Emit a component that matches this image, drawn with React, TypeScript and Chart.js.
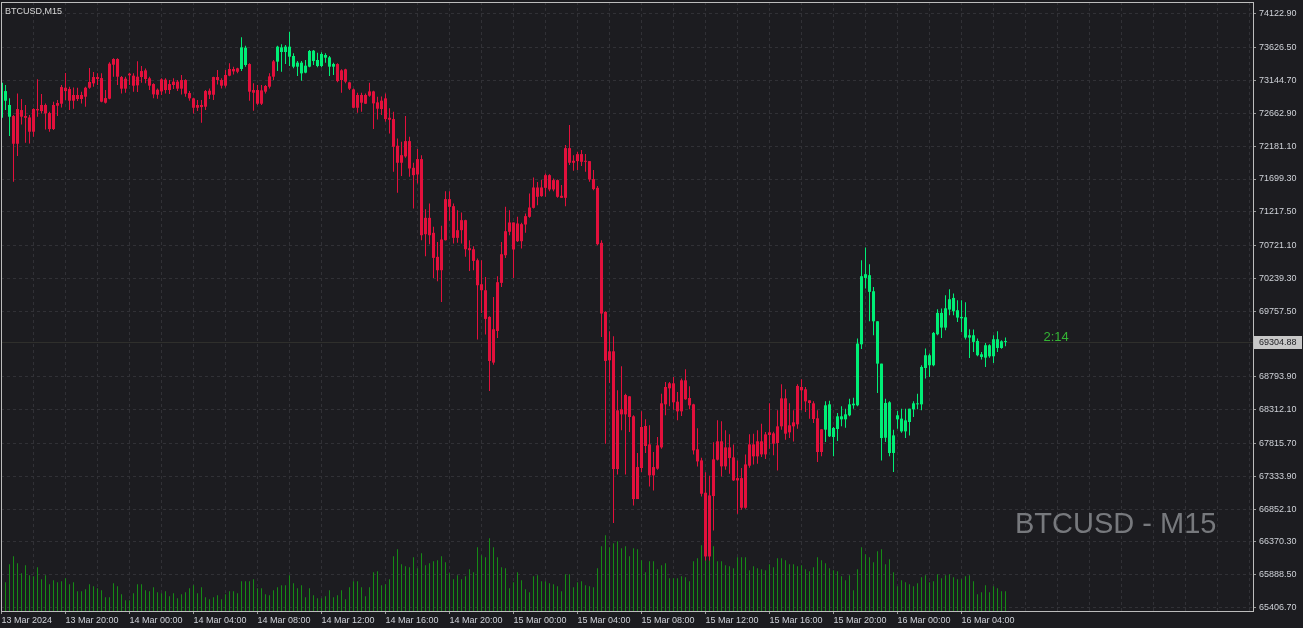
import { useEffect, useRef } from "react";
import { Chart, registerables } from "chart.js";

Chart.register(...registerables);

// ---------- data ----------
const SYMBOL_LABEL = "BTCUSD,M15";
const WATERMARK = "BTCUSD - M15";
const COUNTDOWN = "2:14";
const CURRENT_PRICE = 69304.88;

const timeTicks = [
  "13 Mar 2024", "13 Mar 20:00", "14 Mar 00:00", "14 Mar 04:00", "14 Mar 08:00",
  "14 Mar 12:00", "14 Mar 16:00", "14 Mar 20:00", "15 Mar 00:00", "15 Mar 04:00",
  "15 Mar 08:00", "15 Mar 12:00", "15 Mar 16:00", "15 Mar 20:00", "16 Mar 00:00",
  "16 Mar 04:00",
];

const priceTicks = [
  74122.9, 73626.5, 73144.7, 72662.9, 72181.1, 71699.3, 71217.5, 70721.1, 70239.3,
  69757.5, 68793.9, 68312.1, 67815.7, 67333.9, 66852.1, 66370.3, 65888.5, 65406.7,
];

const open = [
  72599, 72849, 72614, 72624, 72727, 72712, 72624, 72604, 72727, 72727,
  72786, 72786, 72668, 72786, 72815, 73050, 73040, 73021, 72933, 72933,
  72933, 73040, 73124, 73197, 73197, 73182, 72888, 73393, 73462, 73462,
  73197, 73173, 73246, 73217, 73202, 73285, 73295, 73178, 73094, 73011,
  73163, 73158, 73094, 73129, 73129, 73153, 73153, 72962, 72884, 72786,
  72786, 72991, 72996, 73197, 73197, 73153, 73227, 73315, 73315, 73325,
  73315, 73374, 73388, 73006, 73006, 73001, 73065, 73207, 73427, 73423,
  73565, 73565, 73496, 73349, 73349, 73251, 73261, 73349, 73432, 73359,
  73359, 73481, 73349, 73349, 73388, 73295, 73310, 73119, 73016, 72933,
  72933, 72933, 72986, 72986, 72825, 72850, 72884, 72599, 72580, 72188,
  72050, 72256, 72256, 71864, 71992, 71992, 71129, 71129, 70909, 70556,
  70811, 71404, 71404, 71301, 70948, 71095, 71095, 70683, 70668, 70507,
  70154, 70066, 69674, 69493, 70184, 70595, 70933, 71061, 71061, 71046,
  71036, 71154, 71281, 71575, 71575, 71575, 71756, 71756, 71683, 71683,
  71453, 72153, 72153, 71967, 72065, 72065, 71967, 71962, 71698, 71570,
  70762, 69748, 69169, 69169, 68302, 68317, 68527, 68508, 68214, 67469,
  68057, 68072, 67802, 67469, 67788, 68405, 68645, 68699, 68699, 68429,
  68743, 68743, 68483, 68390, 67729, 67567, 67092, 67052, 67582, 67847,
  67847, 67758, 67758, 67611, 67307, 67307, 67508, 67802, 67802, 67847,
  67847, 67949, 67979, 67964, 68067, 68478, 68478, 68082, 68126, 68660,
  68645, 68611, 68449, 68405, 68185, 68023, 68018, 67920, 67910, 68028,
  68170, 68170, 68229, 68376, 68376, 69272, 70247, 70042, 69610, 68988,
  67895, 67900, 67675, 67675, 68170, 67993, 67993, 68131, 68317, 68390,
  68390, 68924, 68964, 68964, 69419, 69517, 69517, 69782, 69757, 69664,
  69654, 69370, 69370, 69307, 69111, 69086, 69076, 69096, 69096, 69218,
  69218, 69316,
];

const high = [
  73140, 73080, 72884, 72639, 72957, 72874, 72786, 72639, 72740, 73163,
  72947, 72810, 72688, 72835, 72859, 73080, 73256, 73055, 73045, 73040,
  72982, 73055, 73329, 73271, 73251, 73251, 73006, 73413, 73472, 73472,
  73212, 73202, 73261, 73251, 73427, 73359, 73324, 73202, 73104, 73030,
  73178, 73178, 73153, 73178, 73153, 73227, 73163, 72991, 72893, 72859,
  72859, 73006, 73030, 73202, 73300, 73178, 73300, 73398, 73349, 73334,
  73780, 73658, 73398, 73104, 73080, 73080, 73080, 73251, 73447, 73658,
  73677, 73668, 73863, 73545, 73432, 73432, 73447, 73594, 73594, 73555,
  73560, 73545, 73506, 73408, 73398, 73310, 73320, 73129, 73030, 72967,
  72967, 72957, 73114, 72996, 72908, 72910, 72957, 72737, 72687, 72296,
  72247, 72624, 72320, 71938, 72139, 72050, 71257, 71340, 70997, 70776,
  71012, 71521, 71521, 71340, 71242, 71208, 71100, 70801, 70713, 70531,
  70507, 70262, 69684, 69968, 70272, 70776, 71291, 71242, 71061, 71144,
  71056, 71193, 71487, 71722, 71654, 71683, 71781, 71771, 71708, 71693,
  71610, 72198, 72492, 72050, 72100, 72124, 72065, 71962, 71830, 71595,
  70801, 69757, 69463, 69390, 68596, 68949, 68547, 68508, 68229, 67675,
  68287, 68170, 68082, 67690, 67910, 68547, 68719, 68719, 68792, 68572,
  68768, 68905, 68655, 68400, 68038, 67606, 67391, 67342, 67832, 68155,
  68140, 68008, 67949, 67802, 67567, 67454, 67655, 67949, 67959, 68008,
  68106, 67984, 68405, 67989, 68302, 68684, 68611, 68405, 68302, 68684,
  68758, 68645, 68449, 68434, 68302, 68023, 68434, 68444, 68057, 68263,
  68361, 68326, 68473, 68488, 69356, 70507, 70693, 70448, 70115, 69610,
  68988, 68473, 68434, 68018, 68292, 68326, 68326, 68326, 68434, 68547,
  68963, 69209, 69135, 69454, 69787, 69797, 69993, 70081, 70017, 69919,
  69919, 69890, 69493, 69488, 69356, 69160, 69292, 69272, 69405, 69463,
  69331, 69370,
];

const low = [
  72565, 72712, 72330, 71659, 72036, 72501, 72232, 72222, 72320, 72614,
  72663, 72428, 72394, 72418, 72624, 72751, 72859, 72712, 72732, 72844,
  72810, 72761, 73026, 73055, 73080, 72825, 72810, 72869, 73202, 73080,
  72957, 72967, 73080, 72982, 72977, 73114, 73104, 73006, 72884, 72879,
  72933, 72957, 72947, 73021, 72991, 72942, 72908, 72849, 72663, 72697,
  72526, 72712, 72874, 72859, 73089, 73030, 73045, 73207, 73236, 73251,
  73285, 73349, 72849, 72702, 72786, 72786, 72957, 73030, 73153, 73285,
  73275, 73388, 73359, 73325, 73212, 73143, 73251, 73339, 73374, 73339,
  73339, 73408, 73212, 73227, 73119, 72967, 73104, 73006, 72737, 72673,
  72688, 72800, 72908, 72433, 72575, 72640, 72541, 72369, 71805, 71497,
  71742, 72011, 71732, 71266, 71634, 70801, 70566, 70742, 70247, 70198,
  69894, 70795, 71085, 70752, 70762, 70752, 70556, 70350, 70360, 69341,
  69732, 69414, 68586, 68973, 69365, 70115, 70541, 70875, 70247, 70776,
  70679, 70909, 71129, 71266, 71315, 71438, 71438, 71521, 71521, 71423,
  71423, 71301, 71904, 71820, 71830, 71889, 71805, 71658, 71536, 70728,
  69380, 67812, 68704, 66646, 67361, 68008, 67361, 67984, 66906, 66999,
  67396, 67675, 67185, 67126, 67430, 67738, 68229, 68361, 68312, 68155,
  68219, 68459, 68317, 67655, 67479, 67038, 66097, 66097, 66538, 67567,
  67332, 67430, 67371, 67263, 66783, 66842, 66857, 67459, 67508, 67518,
  67616, 67587, 67739, 67641, 67420, 68018, 67871, 67896, 67846, 68033,
  68302, 68278, 68180, 68116, 67543, 67626, 67837, 67910, 67626, 67851,
  68067, 68047, 68214, 68327, 68361, 69204, 70091, 69610, 69405, 68557,
  67567, 67836, 67626, 67396, 68033, 67974, 67895, 67934, 68204, 68317,
  68302, 68768, 68792, 68949, 69405, 69365, 69478, 69699, 69699, 69601,
  69454, 69341, 69071, 69160, 69096, 69047, 68939, 69076, 68998, 69160,
  69208, 69243,
];

const close = [
  73114, 72991, 72786, 72217, 72217, 72614, 72599, 72394, 72394, 72707,
  72697, 72663, 72433, 72433, 72776, 72805, 72991, 72849, 72849, 72874,
  72874, 72908, 73040, 73104, 73168, 72835, 72820, 72879, 73378, 73202,
  73026, 73026, 73222, 73070, 73075, 73197, 73168, 73070, 72942, 72937,
  72986, 73006, 73006, 73080, 73026, 73026, 72952, 72884, 72746, 72746,
  72756, 72761, 72937, 72937, 73153, 73070, 73070, 73217, 73280, 73275,
  73633, 73628, 72982, 72967, 72805, 72805, 72982, 73055, 73202, 73643,
  73633, 73643, 73643, 73506, 73408, 73408, 73364, 73579, 73584, 73447,
  73535, 73521, 73486, 73388, 73138, 73153, 73129, 73026, 72746, 72746,
  72820, 72805, 72923, 72810, 72732, 72727, 72580, 72570, 72173, 71938,
  71938, 72031, 71854, 71756, 71766, 70874, 70889, 70874, 70541, 70360,
  70360, 70801, 71291, 70835, 70835, 70948, 70668, 70654, 70497, 70139,
  70066, 69645, 69027, 69003, 69468, 70174, 70580, 70924, 70664, 70786,
  70786, 71031, 71144, 71276, 71438, 71448, 71570, 71546, 71546, 71438,
  71423, 71423, 71938, 71938, 71962, 71952, 71952, 71693, 71551, 70742,
  69723, 69027, 69037, 67440, 67440, 68243, 68243, 68204, 66999, 66999,
  67455, 67778, 67347, 67347, 67445, 67758, 68390, 68625, 68420, 68287,
  68287, 68464, 68375, 67714, 67552, 67077, 66156, 66156, 67043, 67577,
  67479, 67479, 67601, 67273, 67273, 66871, 66871, 67489, 67626, 67626,
  67655, 67655, 67940, 67812, 67822, 68067, 67959, 67979, 68067, 68096,
  68596, 68434, 68410, 68175, 67690, 67690, 68376, 68390, 68043, 68214,
  68214, 68243, 68390, 68400, 69282, 70272, 70301, 70287, 70051, 69610,
  68988, 68410, 68420, 67934, 68229, 68180, 68155, 68326, 68405, 68405,
  68939, 69111, 69111, 69439, 69733, 69733, 69801, 69934, 69953, 69772,
  69674, 69669, 69405, 69405, 69321, 69125, 69258, 69258, 69346, 69346,
  69316, 69304.88,
];

// 1 = bullish-state candle (green), 0 = bearish-state candle (red)
const trend = [
  1, 1, 1, 0, 0, 0, 0, 0, 0, 0,
  0, 0, 0, 0, 0, 0, 0, 0, 0, 0,
  0, 0, 0, 0, 0, 0, 0, 0, 0, 0,
  0, 0, 0, 0, 0, 0, 0, 0, 0, 0,
  0, 0, 0, 0, 0, 0, 0, 0, 0, 0,
  0, 0, 0, 0, 0, 0, 0, 0, 0, 0,
  1, 1, 0, 0, 0, 0, 0, 0, 0, 1,
  1, 1, 1, 1, 1, 1, 1, 1, 1, 1,
  1, 1, 1, 1, 0, 0, 0, 0, 0, 0,
  0, 0, 0, 0, 0, 0, 0, 0, 0, 0,
  0, 0, 0, 0, 0, 0, 0, 0, 0, 0,
  0, 0, 0, 0, 0, 0, 0, 0, 0, 0,
  0, 0, 0, 0, 0, 0, 0, 0, 0, 0,
  0, 0, 0, 0, 0, 0, 0, 0, 0, 0,
  0, 0, 0, 0, 0, 0, 0, 0, 0, 0,
  0, 0, 0, 0, 0, 0, 0, 0, 0, 0,
  0, 0, 0, 0, 0, 0, 0, 0, 0, 0,
  0, 0, 0, 0, 0, 0, 0, 0, 0, 0,
  0, 0, 0, 0, 0, 0, 0, 0, 0, 0,
  0, 0, 0, 0, 0, 0, 0, 0, 0, 0,
  0, 0, 0, 0, 0, 0, 1, 1, 1, 1,
  1, 1, 1, 1, 1, 1, 1, 1, 1, 1,
  1, 1, 1, 1, 1, 1, 1, 1, 1, 1,
  1, 1, 1, 1, 1, 1, 1, 1, 1, 1,
  1, 1, 1, 1, 1, 1, 1, 1, 1, 1,
  1, 1,
];

const volume = [
  1388, 1148, 1868, 2188, 1908, 1508, 1828, 1428, 1388, 1748,
  1268, 1428, 1068, 1228, 1148, 1188, 1308, 1068, 1148, 788,
  788, 868, 1068, 988, 908, 828, 548, 548, 1108, 988,
  668, 428, 428, 708, 1068, 1068, 828, 788, 948, 748,
  708, 788, 588, 708, 508, 668, 748, 908, 1028, 708,
  948, 548, 468, 548, 628, 468, 668, 788, 788, 708,
  1188, 1188, 1188, 1268, 908, 908, 668, 628, 828, 948,
  1028, 1028, 1428, 1108, 908, 1028, 548, 908, 628, 508,
  508, 588, 828, 548, 628, 828, 468, 948, 1188, 1188,
  948, 588, 948, 1548, 1588, 1028, 1068, 1268, 2188, 2468,
  1868, 1788, 1748, 2148, 1708, 2308, 1828, 1908, 1988, 2028,
  2188, 1948, 1508, 1268, 1428, 1268, 1388, 1668, 1548, 2548,
  2228, 2148, 2908, 2548, 2148, 1748, 1708, 908, 1148, 1548,
  1228, 868, 748, 1388, 1428, 1188, 1188, 1108, 1068, 988,
  788, 1468, 1468, 948, 1148, 1188, 1028, 988, 948, 1708,
  2588, 3028, 2548, 2708, 2788, 2508, 2588, 2188, 2508, 2468,
  2028, 1548, 1988, 1988, 1668, 1828, 1908, 1308, 1308, 1308,
  1388, 1348, 1188, 1988, 2108, 2628, 2480, 2400, 2588, 1988,
  1988, 1828, 1788, 1708, 2148, 2148, 2148, 1628, 1788, 1708,
  1668, 1628, 1868, 1748, 2108, 2108, 2028, 1868, 1868, 1788,
  1828, 1668, 1588, 1748, 2148, 2028, 1908, 1708, 1628, 1588,
  1388, 1228, 1428, 828, 1668, 2548, 2268, 2148, 1948, 2388,
  2468, 1868, 2068, 1548, 988, 1228, 1148, 1068, 988, 1108,
  1348, 1428, 1148, 1188, 1468, 1308, 1428, 1468, 1348, 1268,
  1268, 1388, 1428, 1188, 668, 748, 1028, 748, 988, 908,
  788, 788,
];

// ---------- layout / style ----------
const W = 1303;
const H = 628;
const BG = "#1c1c20";
const UP = "#00ee76";
const DOWN = "#e3103c";
const VOL = "#168a16";
const GRID = "#313136";
const FRAME = "#bdbdbd";
const TEXT = "#cfd2d8";
const FONT = "'Liberation Sans', Arial, sans-serif";
const BARS_PER_LABEL = 16;
const BARS_PER_GRID = 8;
const SLOTS = 313;
const X_MIN = -0.125;
const PRICE_MIN = 65355;
const PRICE_MAX = 74299;
const VOL_MAX = 24360;

const decor = {
  id: "decor",
  beforeDraw(chart: any) {
    const { ctx } = chart;
    ctx.save();
    ctx.fillStyle = BG;
    ctx.fillRect(0, 0, chart.width, chart.height);
    ctx.restore();
  },
  beforeDatasetsDraw(chart: any) {
    const { ctx, chartArea: a, scales } = chart;
    const y = Math.round(scales.y.getPixelForValue(CURRENT_PRICE)) + 0.5;
    ctx.save();
    ctx.strokeStyle = "#2f2f2c";
    ctx.lineWidth = 1;
    ctx.beginPath();
    ctx.moveTo(a.left, y);
    ctx.lineTo(a.right, y);
    ctx.stroke();
    ctx.fillStyle = "#77797d";
    ctx.font = `29px ${FONT}`;
    ctx.textBaseline = "alphabetic";
    ctx.textAlign = "left";
    ctx.fillText(WATERMARK, a.right - 238, a.bottom - 78);
    ctx.restore();
  },
  afterDraw(chart: any) {
    const { ctx, chartArea: a, scales } = chart;
    ctx.save();
    ctx.strokeStyle = FRAME;
    ctx.lineWidth = 1;
    ctx.strokeRect(a.left + 0.5, a.top + 0.5, a.right - a.left, a.bottom - a.top);

    // current price box
    const y = Math.round(scales.y.getPixelForValue(CURRENT_PRICE));
    ctx.fillStyle = "#c8c8c8";
    ctx.fillRect(a.right + 1, y - 6, 48, 13);
    ctx.fillStyle = "#1c1c20";
    ctx.font = `9px ${FONT}`;
    ctx.textBaseline = "middle";
    ctx.textAlign = "left";
    ctx.fillText(CURRENT_PRICE.toFixed(2), a.right + 6, y + 0.5);

    // countdown
    const lastX = scales.x.getPixelForValue(open.length - 1);
    ctx.fillStyle = "#34b434";
    ctx.font = `13px ${FONT}`;
    ctx.textBaseline = "alphabetic";
    ctx.fillText(COUNTDOWN, lastX + 38, y - 1);

    // symbol label
    ctx.fillStyle = "#d8d8d8";
    ctx.font = `9px ${FONT}`;
    ctx.fillText(SYMBOL_LABEL, a.left + 4, a.top + 12);
    ctx.restore();
  },
};

export default function App() {
  const ref = useRef<HTMLCanvasElement | null>(null);

  useEffect(() => {
    document.body.style.margin = "0";
    document.body.style.background = BG;
    const idx = open.map((_, i) => i);
    const colors = trend.map((t) => (t ? UP : DOWN));
    const common = {
      grouped: false,
      inflateAmount: 0,
      borderWidth: 0,
      xAxisID: "x",
    };
    const chart = new Chart(ref.current as HTMLCanvasElement, {
      type: "bar",
      data: {
        datasets: [
          {
            ...common,
            label: "body",
            data: idx.map((i) => ({ x: i, y: [open[i], close[i]] })),
            backgroundColor: colors,
            barThickness: 3,
            minBarLength: 1,
            yAxisID: "y",
            order: 0,
          },
          {
            ...common,
            label: "wick",
            data: idx.map((i) => ({ x: i, y: [low[i], high[i]] })),
            backgroundColor: colors,
            barThickness: 1,
            minBarLength: 1,
            yAxisID: "y",
            order: 1,
          },
          {
            ...common,
            label: "volume",
            data: idx.map((i) => ({ x: i, y: volume[i] })),
            backgroundColor: VOL,
            barThickness: 1,
            yAxisID: "yv",
            order: 2,
          },
        ] as any,
      },
      options: {
        responsive: false,
        animation: false,
        devicePixelRatio: 1,
        events: [],
        layout: { padding: { left: 1, top: 2, right: 0, bottom: 0 } },
        plugins: { legend: { display: false }, tooltip: { enabled: false } },
        scales: {
          x: {
            type: "linear",
            min: X_MIN,
            max: X_MIN + SLOTS,
            offset: false,
            afterBuildTicks: (s: any) => {
              const t = [];
              for (let v = 0; v < SLOTS; v += BARS_PER_GRID) t.push({ value: v });
              s.ticks = t;
            },
            afterFit: (s: any) => {
              s.height = 17;
              s.paddingLeft = 0;
              s.paddingRight = 0;
            },
            ticks: {
              autoSkip: false,
              maxRotation: 0,
              minRotation: 0,
              align: "start",
              padding: 1,
              color: TEXT,
              font: { family: FONT, size: 9 },
              callback: (v: any) => {
                const k = Number(v) / BARS_PER_LABEL;
                return Number.isInteger(k) && k < timeTicks.length ? timeTicks[k] : "";
              },
            },
            grid: {
              offset: false,
              color: GRID,
              tickLength: 3,
              tickColor: (c: any) => (c.tick && c.tick.label ? "#9a9a9a" : "rgba(0,0,0,0)"),
            },
            border: { display: false, dash: [3, 3] },
          },
          y: {
            type: "linear",
            position: "right",
            min: PRICE_MIN,
            max: PRICE_MAX,
            beginAtZero: false,
            afterBuildTicks: (s: any) => {
              s.ticks = priceTicks.map((v) => ({ value: v }));
            },
            afterFit: (s: any) => {
              s.width = 50;
              s.paddingTop = 0;
              s.paddingBottom = 0;
            },
            ticks: {
              autoSkip: false,
              padding: 3,
              color: TEXT,
              font: { family: FONT, size: 9 },
              callback: (v: any) => Number(v).toFixed(2),
            },
            grid: { color: GRID, tickLength: 3, tickColor: "#9a9a9a" },
            border: { display: false, dash: [3, 3] },
          },
          yv: {
            type: "linear",
            display: false,
            min: 0,
            max: VOL_MAX,
          },
        },
      } as any,
      plugins: [decor],
    });
    return () => chart.destroy();
  }, []);

  return <canvas ref={ref} width={W} height={H} style={{ display: "block" }} />;
}
